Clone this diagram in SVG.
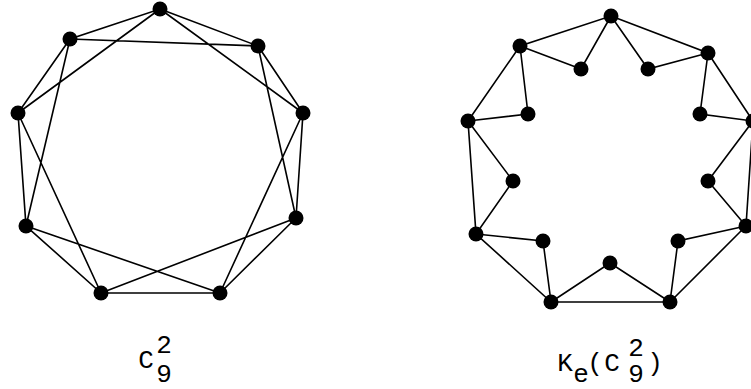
<svg xmlns="http://www.w3.org/2000/svg" width="751" height="389" viewBox="0 0 751 389">
<style>
.e{stroke:#000;stroke-width:1.6;fill:none}
.n{fill:#000}
.t{font-family:"Liberation Mono","DejaVu Sans Mono",monospace;font-size:26px;fill:#000;text-anchor:middle}
</style>
<rect width="751" height="389" fill="#fff"/>
<g id="connectors" class="e">
<!-- left graph C9^2 -->
<path d="M160,9 L258,46 L303,113 L296,218 L220,293 L101,293 L26,226 L18,113 L70,39 Z"/>
<path d="M160,9 L303,113 M258,46 L296,218 M303,113 L220,293 M296,218 L101,293 M220,293 L26,226 M101,293 L18,113 M26,226 L70,39 M18,113 L160,9 M70,39 L258,46"/>
<!-- right graph -->
<path d="M611,16 L708,53 L753,121 L746,226 L670,302 L551,302 L476,234 L468,121 L520,46 Z"/>
<path d="M520,46 L581,69 L611,16 M611,16 L648,69 L708,53 M520,46 L528,114 L468,121 M708,53 L700,114 L753,121 M468,121 L513,181 L476,234 M753,121 L708,181 L746,226 M476,234 L543,241 L551,302 M746,226 L678,241 L670,302 M551,302 L610,263 L670,302"/>
</g>
<g id="left-graph" class="n">
<circle id="a0" cx="160" cy="9" r="7.5"/>
<circle id="a1" cx="258" cy="46" r="7.5"/>
<circle id="a2" cx="303" cy="113" r="7.5"/>
<circle id="a3" cx="296" cy="218" r="7.5"/>
<circle id="a4" cx="220" cy="293" r="7.5"/>
<circle id="a5" cx="101" cy="293" r="7.5"/>
<circle id="a6" cx="26" cy="226" r="7.5"/>
<circle id="a7" cx="18" cy="113" r="7.5"/>
<circle id="a8" cx="70" cy="39" r="7.5"/>
</g>
<g id="right-graph" class="n">
<circle id="b0" cx="611" cy="16" r="7.5"/>
<circle id="b1" cx="708" cy="53" r="7.5"/>
<circle id="b2" cx="753" cy="121" r="7.5"/>
<circle id="b3" cx="746" cy="226" r="7.5"/>
<circle id="b4" cx="670" cy="302" r="7.5"/>
<circle id="b5" cx="551" cy="302" r="7.5"/>
<circle id="b6" cx="476" cy="234" r="7.5"/>
<circle id="b7" cx="468" cy="121" r="7.5"/>
<circle id="b8" cx="520" cy="46" r="7.5"/>
<circle id="c0" cx="581" cy="69" r="7.5"/>
<circle id="c1" cx="648" cy="69" r="7.5"/>
<circle id="c2" cx="528" cy="114" r="7.5"/>
<circle id="c3" cx="700" cy="114" r="7.5"/>
<circle id="c4" cx="513" cy="181" r="7.5"/>
<circle id="c5" cx="708" cy="181" r="7.5"/>
<circle id="c6" cx="543" cy="241" r="7.5"/>
<circle id="c7" cx="678" cy="241" r="7.5"/>
<circle id="c8" cx="610" cy="263" r="7.5"/>
</g>
<g id="label-left" class="t">
<text x="146" y="368">C</text>
<text x="164" y="353">2</text>
<text x="164" y="382">9</text>
</g>
<g id="label-right" class="t">
<text x="565" y="371">K</text>
<text x="581" y="382">e</text>
<text x="595" y="371">(</text>
<text x="612" y="371">C</text>
<text x="636" y="356">2</text>
<text x="636" y="382">9</text>
<text x="655" y="371">)</text>
</g>
</svg>
